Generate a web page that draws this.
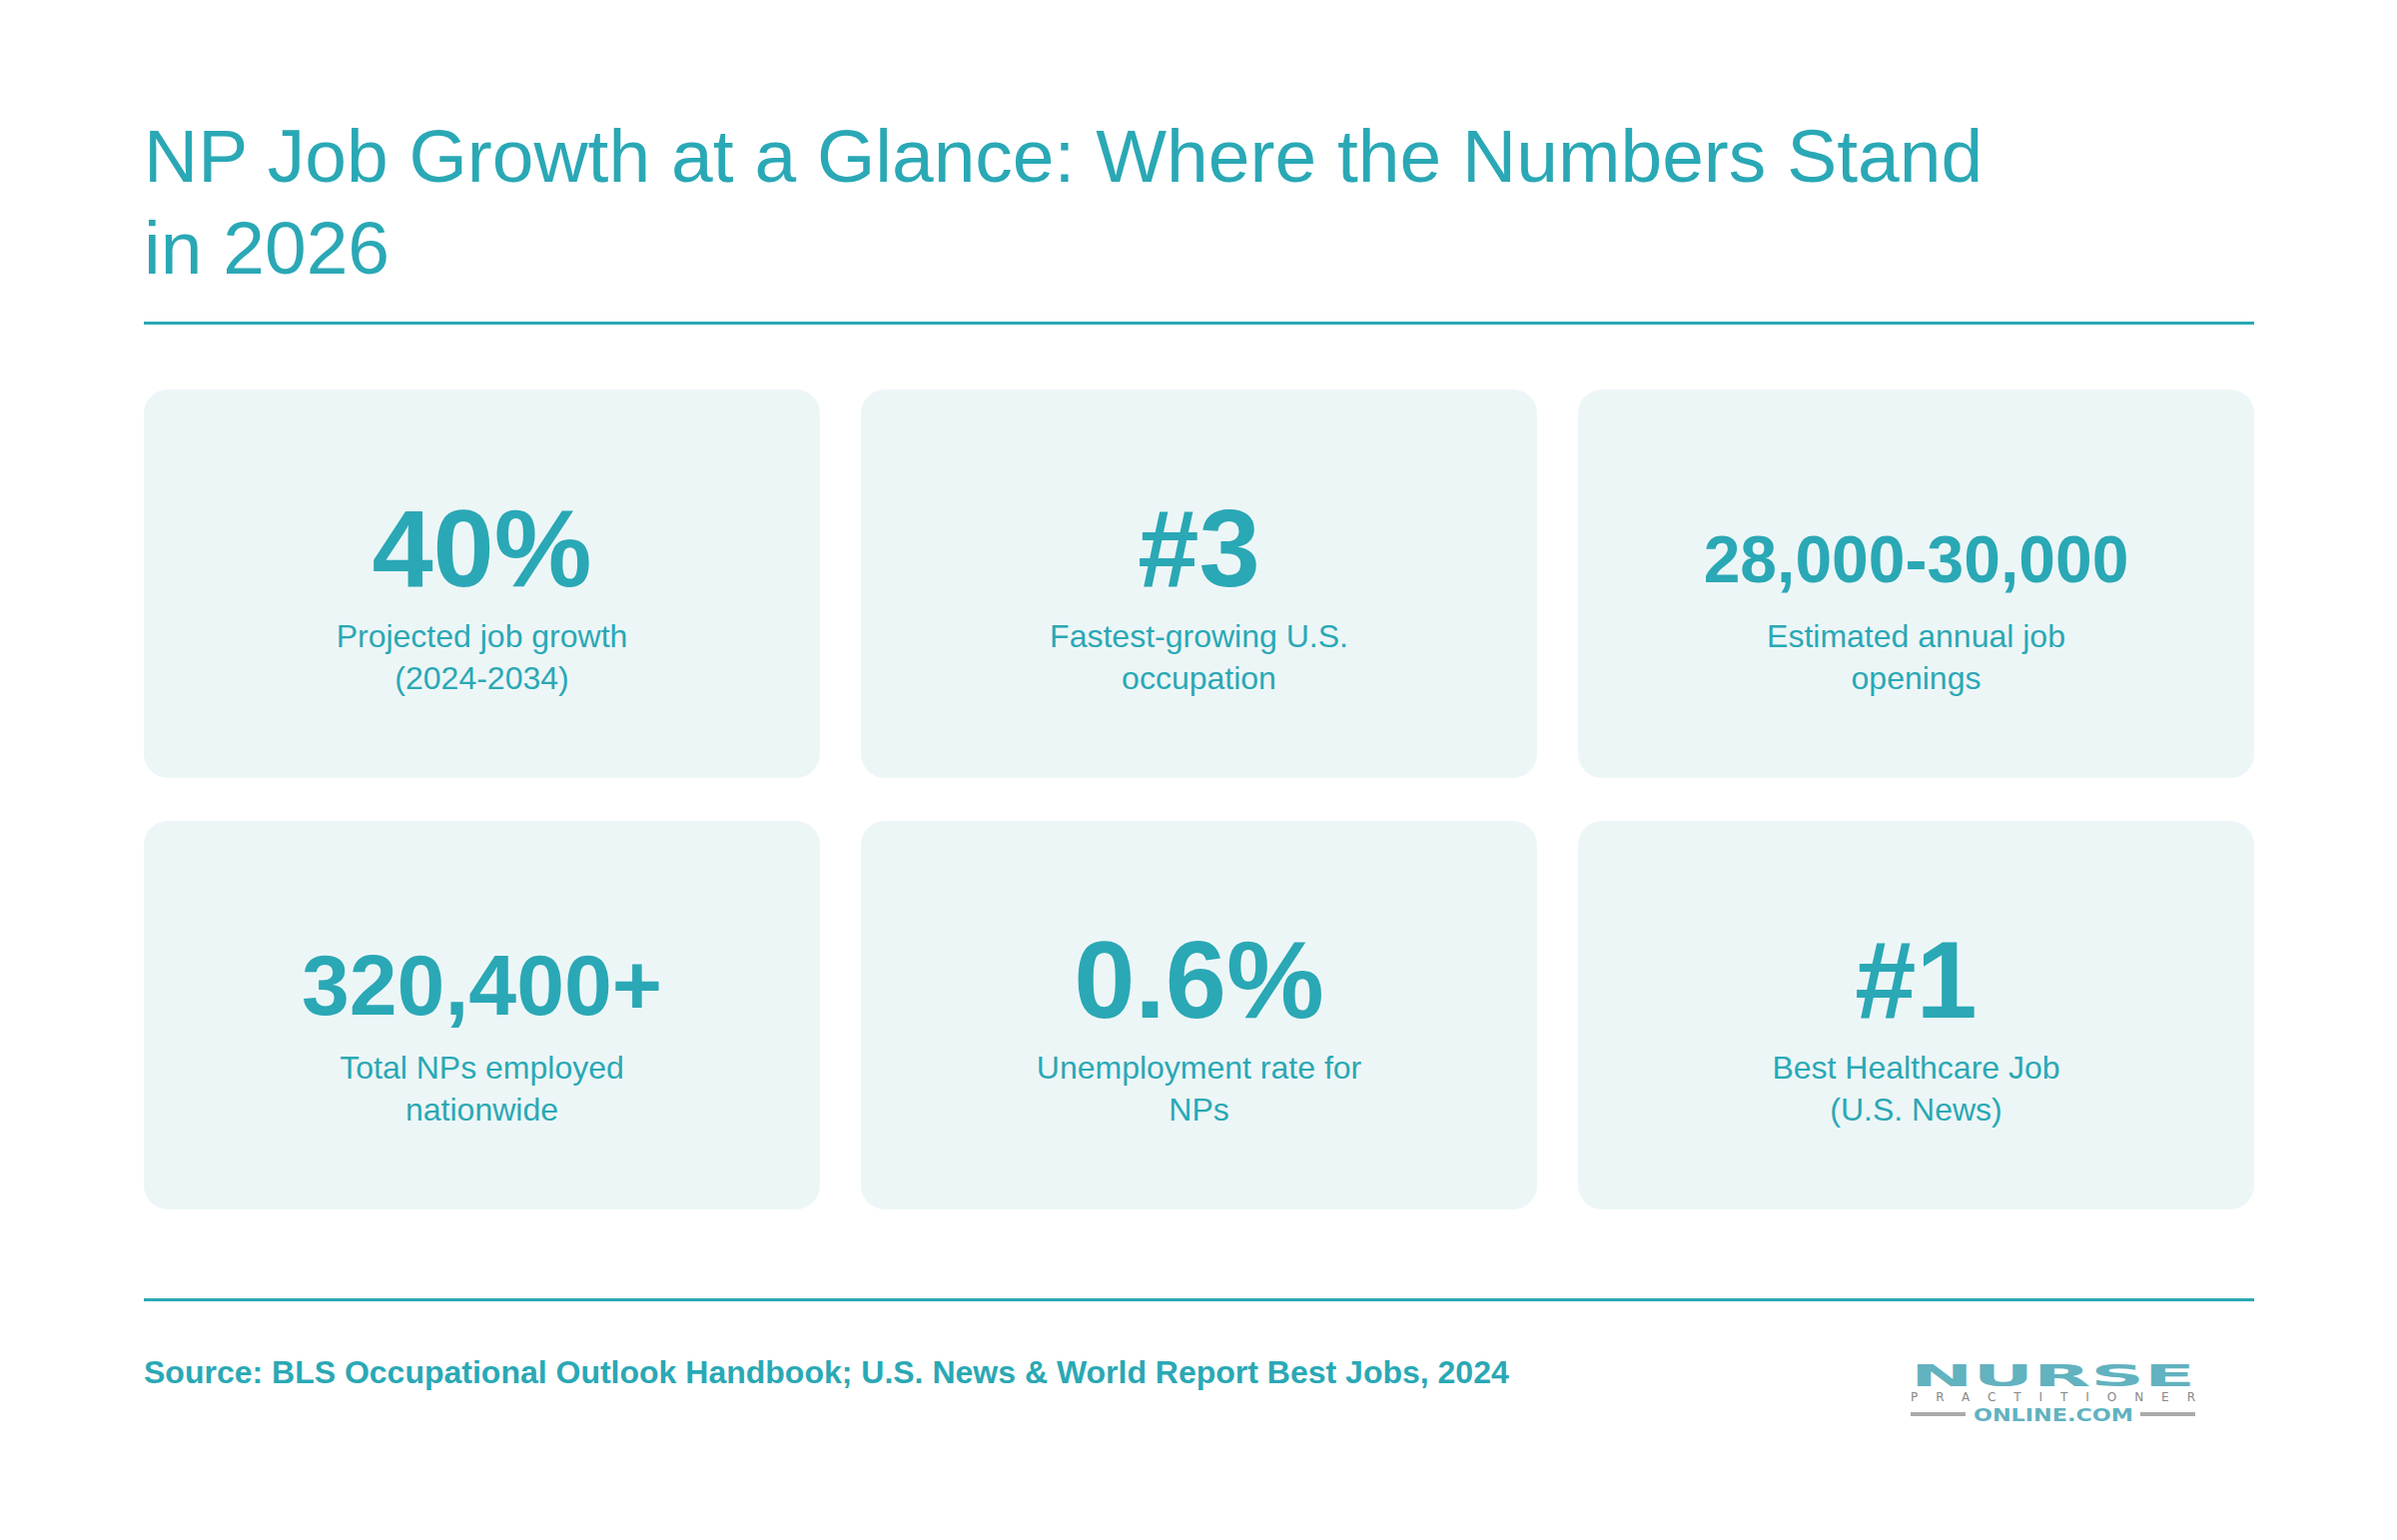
<!DOCTYPE html>
<html>
<head>
<meta charset="utf-8">
<script src="https://cdn.jsdelivr.net/npm/chart.js@4"></script>
<style>
  html, body { margin: 0; padding: 0; background: #fff; }
  body { width: 2400px; height: 1542px; position: relative; font-family: 'Liberation Sans', Arial, sans-serif; color: #2aa8b5; overflow: hidden; }
  h1 { position: absolute; left: 144px; top: 110px; margin: 0; font-weight: 400; font-size: 75px; line-height: 92px; width: 1900px; }
  .rule { position: absolute; left: 144px; width: 2113px; height: 3px; background: #2aa8b5; }
  .card { position: absolute; width: 677px; height: 389px; background: #edf6f7; border-radius: 24px; text-align: center; }
  .card .num { position: absolute; left: 0; right: 0; top: 94px; font-weight: 700; font-size: 110px; line-height: 130px; }
  .card .num.mid { font-size: 86px; top: 104px; line-height: 120px; }
  .card .num.small { font-size: 66px; top: 120px; line-height: 100px; }
  .card .lbl { position: absolute; left: 0; right: 0; top: 226px; font-size: 32px; line-height: 42px; }
  .source { position: absolute; left: 144px; top: 1356px; font-weight: 700; font-size: 32px; }
  .logo { position: absolute; left: 1910px; top: 1360px; }
</style>
</head>
<body>
<h1 id="title"></h1>
<div class="rule" style="top:322px"></div>
<div id="cards"></div>
<div class="rule" style="top:1300px"></div>
<div class="source" id="source"></div>
<svg class="logo" width="300" height="80">
  <text x="3" y="28" textLength="285" lengthAdjust="spacingAndGlyphs" font-family="DejaVu Sans" font-weight="900" font-size="30" fill="#62b2bf">NURSE</text>
  <text x="3" y="43" textLength="285" lengthAdjust="spacing" font-family="DejaVu Sans" font-size="12" fill="#888">PRACTITIONER</text>
  <rect x="3" y="54" width="55" height="4" fill="#aaa"/>
  <rect x="233" y="54" width="55" height="4" fill="#aaa"/>
  <text x="66" y="63" textLength="160" lengthAdjust="spacingAndGlyphs" font-family="DejaVu Sans" font-weight="700" font-size="17" fill="#62b2bf">ONLINE.COM</text>
</svg>
<script>
const titleText = 'NP Job Growth at a Glance: Where the Numbers Stand in 2026';
const statValues = ['40%', '#3', '28,000-30,000', '320,400+', '0.6%', '#1'];
const statLabels = [
  ['Projected job growth', '(2024-2034)'],
  ['Fastest-growing U.S.', 'occupation'],
  ['Estimated annual job', 'openings'],
  ['Total NPs employed', 'nationwide'],
  ['Unemployment rate for', 'NPs'],
  ['Best Healthcare Job', '(U.S. News)'],
];
const sourceText = 'Source: BLS Occupational Outlook Handbook; U.S. News & World Report Best Jobs, 2024';

document.getElementById('title').textContent = titleText;
document.getElementById('source').textContent = sourceText;

const colX = [144, 862, 1580];
const rowY = [390, 822];
const cards = document.getElementById('cards');
statValues.forEach((value, i) => {
  const card = document.createElement('div');
  card.className = 'card';
  card.style.left = colX[i % 3] + 'px';
  card.style.top = rowY[Math.floor(i / 3)] + 'px';
  const size = value.length > 10 ? ' small' : value.length > 5 ? ' mid' : '';
  card.innerHTML = `<div class="num${size}">${value}</div>
    <div class="lbl">${statLabels[i].join('<br>')}</div>`;
  cards.appendChild(card);
});
</script>
</body>
</html>
